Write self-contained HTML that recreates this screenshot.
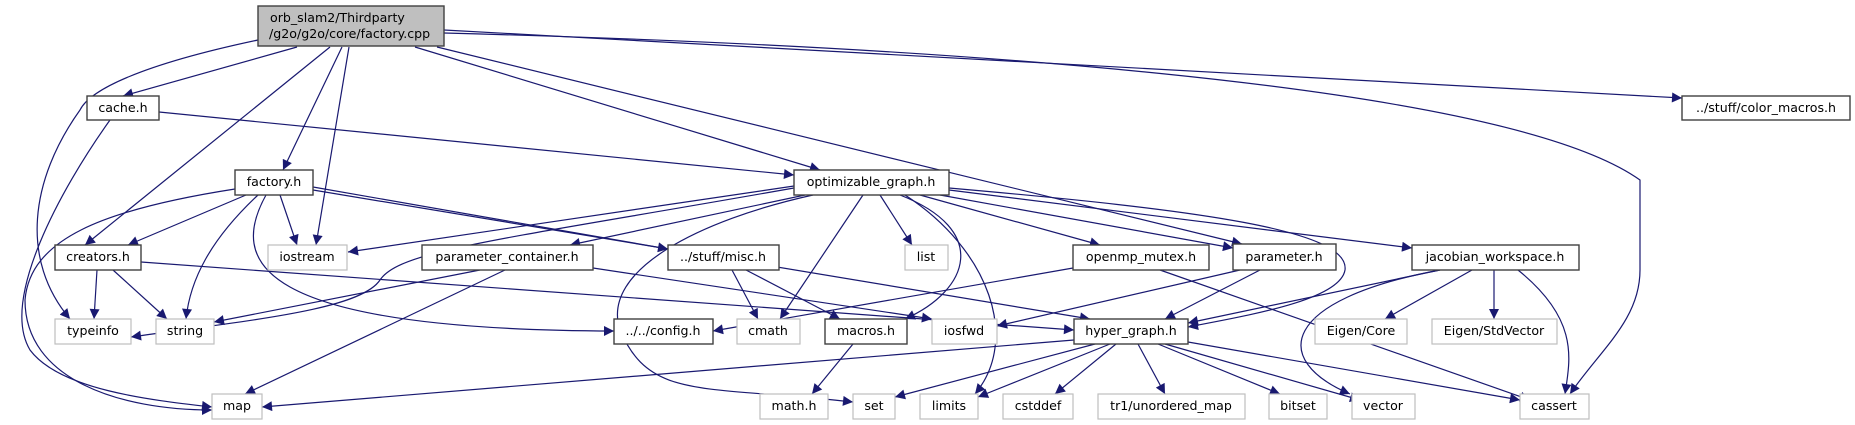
<!DOCTYPE html>
<html><head><meta charset="utf-8"><style>
html,body{margin:0;padding:0;background:#fff;width:1855px;height:425px;overflow:hidden}
svg{display:block}
text{font-family:"DejaVu Sans","Liberation Sans",sans-serif;font-size:12.6px;fill:#000;text-anchor:middle}
.e{fill:none;stroke:#191970;stroke-width:1.2}
.n{fill:#fff;stroke:#404040;stroke-width:1.4}
.g{fill:#fff;stroke:#bfbfbf;stroke-width:1.2}
</style></head><body>
<svg width="1855" height="425" viewBox="0 0 1855 425">
<defs><marker id="a" viewBox="0 0 10 10" refX="10" refY="5" markerWidth="11" markerHeight="10" markerUnits="userSpaceOnUse" orient="auto"><path d="M0,0 L10,5 L0,10 z" fill="#191970"/></marker></defs>
<g class="e" marker-end="url(#a)">
<path d="M258,40 C140,65 90,90 80,110 C30,180 20,260 70,319"/>
<path d="M297,47 L123,96"/>
<path d="M330,47 L85,245"/>
<path d="M342,47 L283,170"/>
<path d="M349,47 L316,245"/>
<path d="M415,47 L820,170"/>
<path d="M437,47 L1242,244"/>
<path d="M444,30 L1682,98"/>
<path d="M444,33 C900,45 1500,80 1640,180 L1640,270 C1640,320 1600,350 1570,394"/>
<path d="M110,120 C60,190 0,300 30,350 C60,390 150,400 212,407"/>
<path d="M159,112 L794,175"/>
<path d="M235,189 C100,210 30,240 25,300 C25,380 120,410 212,410"/>
<path d="M246,195 L128,245"/>
<path d="M258,195 C210,240 190,280 186,319"/>
<path d="M266,195 C230,260 250,330 614,331"/>
<path d="M280,195 L297,245"/>
<path d="M313,187 L668,249"/>
<path d="M313,190 L1090,319"/>
<path d="M794,186 L348,252"/>
<path d="M794,188 C500,240 400,250 380,280 C360,310 250,320 131,337"/>
<path d="M805,195 L570,245"/>
<path d="M813,195 C700,220 600,270 620,330 C650,400 700,385 853,402"/>
<path d="M863,195 L780,319"/>
<path d="M880,195 L912,245"/>
<path d="M900,195 C990,230 970,290 905,319"/>
<path d="M905,195 C990,250 1020,340 975,394"/>
<path d="M920,195 L1100,245"/>
<path d="M940,195 L1233,248"/>
<path d="M949,190 L1412,248"/>
<path d="M949,188 C1200,210 1350,230 1345,270 C1340,300 1250,315 1188,327"/>
<path d="M480,270 L214,322"/>
<path d="M505,270 L245,394"/>
<path d="M593,268 L932,319"/>
<path d="M97,270 L94,319"/>
<path d="M113,270 L167,319"/>
<path d="M141,262 L1074,330"/>
<path d="M732,270 L758,319"/>
<path d="M746,270 L840,319"/>
<path d="M853,344 L812,394"/>
<path d="M1073,268 L713,331"/>
<path d="M1160,270 L1530,400"/>
<path d="M1240,270 L997,326"/>
<path d="M1260,270 L1165,319"/>
<path d="M1440,270 L1188,323"/>
<path d="M1472,270 L1385,319"/>
<path d="M1494,270 L1494,319"/>
<path d="M1518,270 C1580,320 1570,360 1565,394"/>
<path d="M1440,270 C1280,300 1270,360 1350,394"/>
<path d="M1074,340 L262,407"/>
<path d="M1095,344 L895,397"/>
<path d="M1110,344 L978,397"/>
<path d="M1116,344 L1055,394"/>
<path d="M1138,344 L1165,394"/>
<path d="M1158,344 L1280,394"/>
<path d="M1165,344 L1360,400"/>
<path d="M1188,342 L1520,400"/>
</g>
<rect x="258" y="6" width="186" height="40" fill="#bfbfbf" stroke="#404040" stroke-width="1.4"/>
<text x="270" y="22" style="text-anchor:start">orb_slam2/Thirdparty</text>
<text x="269" y="38" style="text-anchor:start">/g2o/g2o/core/factory.cpp</text>
<rect class="n" x="87" y="96" width="72" height="24"/><text x="123" y="112">cache.h</text>
<rect class="n" x="1682" y="96" width="168" height="24"/><text x="1766" y="112">../stuff/color_macros.h</text>
<rect class="n" x="235" y="170" width="78" height="25"/><text x="274" y="186">factory.h</text>
<rect class="n" x="794" y="170" width="155" height="25"/><text x="871" y="186">optimizable_graph.h</text>
<rect class="n" x="55" y="245" width="86" height="25"/><text x="98" y="261">creators.h</text>
<rect class="g" x="268" y="245" width="79" height="25"/><text x="307" y="261">iostream</text>
<rect class="n" x="422" y="245" width="171" height="25"/><text x="507" y="261">parameter_container.h</text>
<rect class="n" x="668" y="245" width="111" height="25"/><text x="723" y="261">../stuff/misc.h</text>
<rect class="g" x="905" y="245" width="43" height="25"/><text x="926" y="261">list</text>
<rect class="n" x="1073" y="245" width="136" height="25"/><text x="1141" y="261">openmp_mutex.h</text>
<rect class="n" x="1233" y="244" width="103" height="26"/><text x="1284" y="261">parameter.h</text>
<rect class="n" x="1412" y="245" width="167" height="25"/><text x="1495" y="261">jacobian_workspace.h</text>
<rect class="g" x="55" y="319" width="76" height="25"/><text x="93" y="335">typeinfo</text>
<rect class="g" x="156" y="319" width="58" height="25"/><text x="185" y="335">string</text>
<rect class="n" x="614" y="319" width="99" height="25"/><text x="663" y="335">../../config.h</text>
<rect class="g" x="737" y="319" width="63" height="25"/><text x="768" y="335">cmath</text>
<rect class="n" x="825" y="319" width="82" height="25"/><text x="866" y="335">macros.h</text>
<rect class="g" x="932" y="319" width="65" height="25"/><text x="964" y="335">iosfwd</text>
<rect class="n" x="1074" y="319" width="114" height="25"/><text x="1131" y="335">hyper_graph.h</text>
<rect class="g" x="1315" y="319" width="92" height="25"/><text x="1361" y="335">Eigen/Core</text>
<rect class="g" x="1432" y="319" width="125" height="25"/><text x="1494" y="335">Eigen/StdVector</text>
<rect class="g" x="212" y="394" width="50" height="25"/><text x="237" y="410">map</text>
<rect class="g" x="760" y="394" width="68" height="25"/><text x="794" y="410">math.h</text>
<rect class="g" x="853" y="394" width="42" height="25"/><text x="874" y="410">set</text>
<rect class="g" x="920" y="394" width="58" height="25"/><text x="949" y="410">limits</text>
<rect class="g" x="1003" y="394" width="70" height="25"/><text x="1038" y="410">cstddef</text>
<rect class="g" x="1098" y="394" width="147" height="25"/><text x="1171" y="410">tr1/unordered_map</text>
<rect class="g" x="1269" y="394" width="58" height="25"/><text x="1298" y="410">bitset</text>
<rect class="g" x="1352" y="394" width="63" height="25"/><text x="1383" y="410">vector</text>
<rect class="g" x="1520" y="394" width="69" height="25"/><text x="1554" y="410">cassert</text>
</svg>
</body></html>
